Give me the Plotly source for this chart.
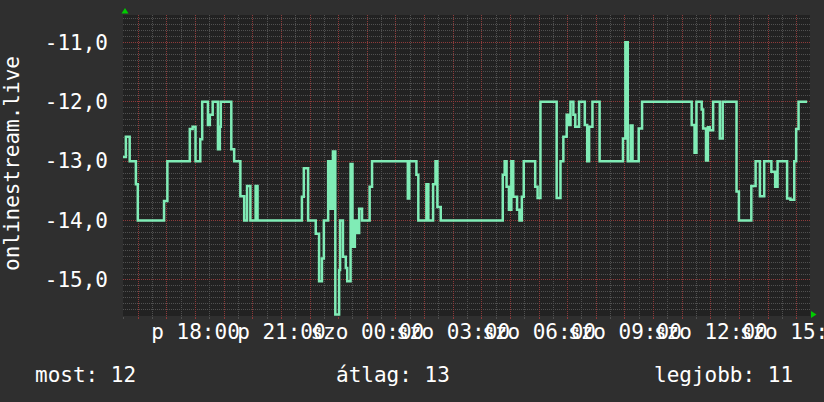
import datetime as dt
import plotly.graph_objects as go

# ---- data ----
start_day = "2024-03-01"          # a Friday ("p" = péntek, "szo" = szombat)
axis_start = "15:28"
axis_end = "15:28"
times = ["15:28","15:34","15:42","15:55","15:59","16:54","17:01","17:48","17:54","18:00",
         "18:10","18:14","18:26","18:30","18:36","18:47","18:51","18:53","19:15","19:21",
         "19:34","19:42","19:48","19:55","20:06","20:10",
         "21:43","21:47","21:56","22:12","22:19","22:25","22:29","22:38","22:43","22:48",
         "22:53","23:01","23:03","23:09","23:15","23:18","23:25","23:29","23:34","23:39",
         "23:43","23:49",
         "00:05","00:10",
         "01:25","01:28","01:43","01:47","02:04","02:08","02:18","02:23","02:27","02:34",
         "04:44","04:48","04:52","04:57","05:02","05:06","05:14","05:19","05:24","05:28",
         "05:52","05:57","06:03",
         "06:37","06:45","06:51","06:58","07:02","07:06","07:12","07:16","07:24",
         "07:36","07:41","07:45","07:52",
         "08:07","08:56","09:01","09:06","09:12","09:16","09:29","09:36",
         "11:20","11:26","11:30","11:41","11:44","11:50","11:54","11:58","12:05","12:19","12:25",
         "12:54","12:59","13:25","13:34","13:43","13:52","14:07","14:15","14:20","14:40",
         "14:47","14:55","14:59","15:04","15:22"]
values = [-12.93,-12.59,-13.0,-13.39,-14.0,-13.67,-13.0,-12.46,-12.42,-13.0,
          -12.63,-12.0,-12.39,-12.22,-12.0,-12.8,-12.42,-12.0,-12.8,-13.0,
          -13.59,-14.0,-13.42,-14.0,-13.42,-14.0,
          -13.6,-13.12,-14.0,-14.22,-15.02,-14.64,-14.0,-13.0,-13.8,-12.84,
          -15.58,-14.83,-14.0,-14.61,-14.8,-15.02,-13.05,-14.44,-14.0,-14.21,
          -13.8,-14.0,
          -13.43,-13.0,
          -13.63,-13.0,-13.23,-14.0,-13.39,-14.0,-13.39,-13.0,-13.77,-14.0,
          -13.23,-13.0,-13.43,-13.82,-13.0,-13.6,-13.82,-14.0,-13.6,-13.0,
          -13.43,-13.62,-12.0,
          -13.62,-13.0,-12.59,-12.22,-12.39,-12.0,-12.22,-12.42,-12.0,
          -12.39,-13.0,-12.42,-12.0,
          -13.0,-12.62,-11.0,-13.0,-12.4,-13.0,-12.45,-12.0,
          -12.39,-12.86,-12.0,-12.13,-12.45,-12.99,-12.43,-12.48,-12.0,-12.62,-12.0,
          -13.51,-14.0,-13.42,-13.0,-13.59,-13.0,-13.18,-13.43,-13.0,-13.63,
          -13.65,-13.0,-12.46,-12.0,-12.0]
day_names = ["p", "szo"]
y_ticks = [-15, -14, -13, -12, -11]
y_ticktext = ["-15,0", "-14,0", "-13,0", "-12,0", "-11,0"]
y_title = "onlinestream.live"
legend_texts = ["most: 12", "átlag: 13", "legjobb: 11"]
y_range = [-15.606, -10.541]

# ---- build datetimes ----
base = dt.datetime.fromisoformat(start_day)
xs = []
day = 0
prev = None
for t in times:
    h, m = map(int, t.split(":"))
    cur = h * 60 + m
    if prev is not None and cur < prev:
        day += 1
    prev = cur
    xs.append(base + dt.timedelta(days=day, hours=h, minutes=m))

h0, m0 = map(int, axis_start.split(":"))
x0 = base + dt.timedelta(hours=h0, minutes=m0)
h1, m1 = map(int, axis_end.split(":"))
x1 = base + dt.timedelta(days=1, hours=h1, minutes=m1)

tickvals, ticktext = [], []
t = x0.replace(minute=0) + dt.timedelta(hours=1)
while t < x1:
    tickvals.append(t)
    if t.hour % 3 == 0:
        ticktext.append(f"{day_names[(t - base).days]} {t:%H:%M}")
    else:
        ticktext.append("")
    t += dt.timedelta(hours=1)

FONT = "DejaVu Sans Mono"
MAJOR = "#8e3a3a"
MINOR = "#505050"

fig = go.Figure()
fig.add_trace(go.Scatter(
    x=xs, y=values, mode="lines", line=dict(color="#80ecb6", width=2.5, shape="hv"),
    hoverinfo="skip", showlegend=False))

fig.update_layout(
    width=824, height=402, template="none",
    margin=dict(l=123, r=14, t=15, b=86),
    paper_bgcolor="#2f2f2f", plot_bgcolor="#222222",
    font=dict(family=FONT, size=21, color="#ffffff"),
    showlegend=False,
)
fig.update_xaxes(
    type="date", range=[x0, x1], automargin=False,
    tickmode="array", tickvals=tickvals, ticktext=ticktext, tickangle=0,
    ticklabeloverflow="allow",
    showgrid=True, gridcolor=MAJOR, griddash="1px,1px", gridwidth=1,
    ticks="outside", ticklen=2, tickcolor=MAJOR, ticklabelstandoff=-5,
    tickfont=dict(family=FONT, size=21, color="#ffffff"),
    showline=False, zeroline=False,
    minor=dict(dtick=1800000, tick0=start_day + " 00:00", showgrid=True,
               gridcolor=MINOR, griddash="1px,1px", ticks="outside", ticklen=2,
               tickcolor=MINOR),
)
fig.update_yaxes(
    range=y_range, automargin=False,
    tickmode="array", tickvals=y_ticks, ticktext=y_ticktext,
    showgrid=True, gridcolor=MAJOR, griddash="1px,1px", gridwidth=1,
    ticks="", ticklabelstandoff=14,
    tickfont=dict(family=FONT, size=21, color="#ffffff"),
    showline=False, zeroline=False,
    minor=dict(dtick=0.1, tick0=0, showgrid=True, gridcolor=MINOR, griddash="1px,1px"),
)

# axis title
fig.add_annotation(text=y_title, textangle=-90, xref="paper", yref="paper",
                   x=(12 - 123) / 687, y=(316 - 164) / 301, xanchor="center", yanchor="middle",
                   showarrow=False, font=dict(family=FONT, size=21, color="#ffffff"))
# footer legend texts
for txt, px in zip(legend_texts, [33, 334, 652]):
    fig.add_annotation(text=txt, xref="paper", yref="paper",
                       x=(px - 123) / 687, y=(316 - 375) / 301,
                       xanchor="left", yanchor="middle", showarrow=False,
                       font=dict(family=FONT, size=21, color="#ffffff"))

# rrdtool-style axis arrows
def px2paper(px, py):
    return (px - 123) / 687, (316 - py) / 301

a = [px2paper(125, 8), px2paper(121.5, 13.5), px2paper(128.5, 13.5)]
b = [px2paper(816.5, 314.5), px2paper(811, 311), px2paper(811, 318)]
for tri in (a, b):
    path = "M {} {} L {} {} L {} {} Z".format(*[c for p in tri for c in p])
    fig.add_shape(type="path", path=path, xref="paper", yref="paper",
                  fillcolor="#00cc00", line=dict(width=0), layer="above")

fig.write_html("out.html", config={"displayModeBar": False},
               post_script="document.body.style.margin='0px';document.body.style.overflow='hidden';")
